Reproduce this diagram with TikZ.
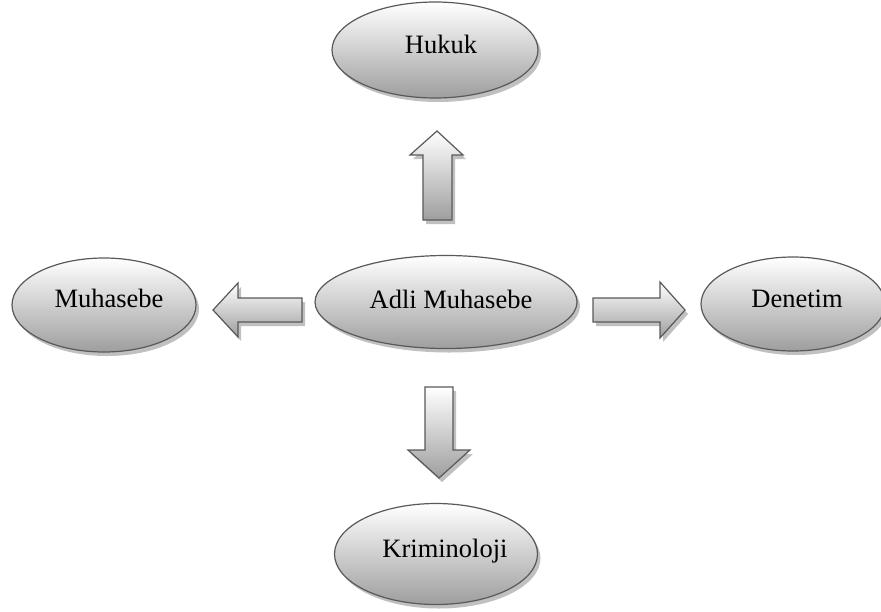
\documentclass[tikz,border=0pt]{standalone}
\usepackage{fontspec}
\setmainfont{Liberation Serif}
\usetikzlibrary{shapes.geometric,shadows}
\begin{document}
\begin{tikzpicture}[x=1pt,y=-1pt,
  shade/.style={top color=white, bottom color=black!38,
    drop shadow={shadow xshift=3pt, shadow yshift=-4pt, fill=black!55, opacity=0.45}},
  oval/.style={ellipse, draw=black!65, line width=1.2pt, shade, inner sep=0pt},
  lbl/.style={font=\fontsize{26.5}{30}\selectfont, inner sep=0pt, anchor=base},
  blockarrow/.style={draw=black!65, line width=1.2pt, line join=miter, shade}]
\useasboundingbox (0,0) rectangle (881,611);
% ellipses
\node[oval, minimum width=206pt, minimum height=96pt] (huk) at (435,50) {};
\node[oval, minimum width=184pt, minimum height=94pt] (muh) at (104,305) {};
\node[oval, minimum width=262pt, minimum height=93pt] (adli) at (446,302) {};
\node[oval, minimum width=184pt, minimum height=94pt] (den) at (793,304) {};
\node[oval, minimum width=203pt, minimum height=101pt] (kri) at (436,554) {};
% labels
\node[lbl] (hukt) at (441,53) {Hukuk};
\node[lbl] (muht) at (109,307) {Muhasebe};
\node[lbl] (adlit) at (451,308) {Adli Muhasebe};
\node[lbl] (dent) at (797,307) {Denetim};
\node[lbl] (krit) at (445,557) {Kriminoloji};
% block arrows
\draw[blockarrow] (423,220) -- (423,155) -- (410,155) -- (437,131) -- (463,155) -- (452,155) -- (452,220) -- cycle;
\draw[blockarrow] (302,298) -- (238,298) -- (238,283) -- (213,310) -- (238,337) -- (238,322) -- (302,322) -- cycle;
\draw[blockarrow] (593,298) -- (660,298) -- (660,282) -- (685,310) -- (660,338) -- (660,322) -- (593,322) -- cycle;
\draw[blockarrow] (425,387) -- (453,387) -- (453,450) -- (470,450) -- (439,478) -- (408,450) -- (425,450) -- cycle;
\end{tikzpicture}
\end{document}
